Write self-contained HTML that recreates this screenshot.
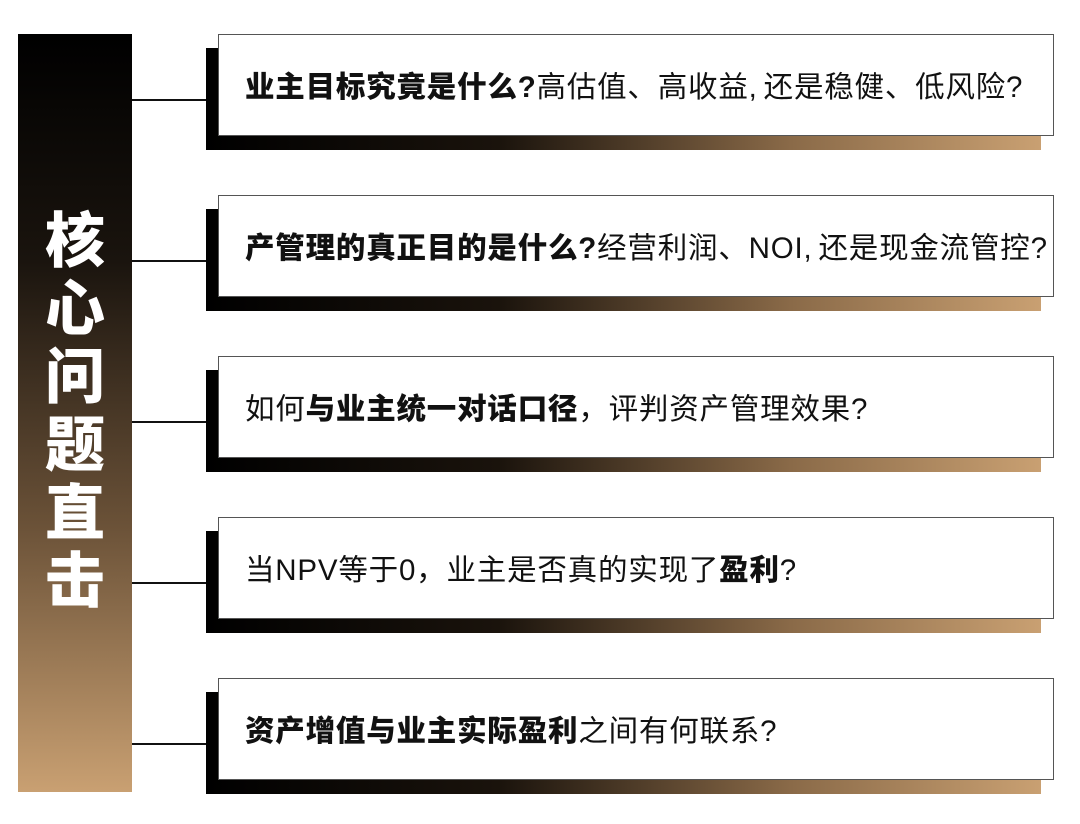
<!DOCTYPE html>
<html><head><meta charset="utf-8"><style>
body{margin:0;width:1080px;height:824px;background:#fff;position:relative;overflow:hidden;font-family:"Liberation Sans","Noto Sans CJK SC",sans-serif}
.bar{position:absolute;left:18px;top:34px;width:114px;height:758px;background:linear-gradient(to bottom,#000 0%,#1a140e 30%,#6b5238 65%,#c9a072 100%)}
.vt{position:absolute;left:18px;width:114px;top:208px;color:#fff;font-weight:900;font-size:60px;line-height:68px;text-align:center}
.sh{position:absolute;left:206px;width:835px;height:102px;background:linear-gradient(to right,#000 0%,#1a130c 35%,#8a6a48 70%,#c9a072 100%)}
.bx{position:absolute;left:218px;width:836px;height:100px;background:#fff;border:1px solid #555;display:flex;align-items:center;padding-left:26px;box-sizing:border-box;font-size:29.5px;letter-spacing:0.8px;color:#111;white-space:nowrap}
.ln{position:absolute;left:132px;width:75px;height:2px;background:#111}
b{font-weight:900}
.c{margin-right:6px}
</style></head><body>
<div class="bar"></div>
<div class="vt">核<br>心<br>问<br>题<br>直<br>击</div>

<div class="ln" style="top:99px"></div>
<div class="sh" style="top:48px"></div>
<div class="bx" style="top:34px;height:102px"><span><b>业主目标究竟是什么?</b>高估值、高收益<span class="c">,</span>还是稳健、低风险?</span></div>

<div class="ln" style="top:260px"></div>
<div class="sh" style="top:209px"></div>
<div class="bx" style="top:195px;height:102px"><span><b>产管理的真正目的是什么?</b>经营利润、NOI<span class="c">,</span>还是现金流管控?</span></div>

<div class="ln" style="top:421px"></div>
<div class="sh" style="top:370px"></div>
<div class="bx" style="top:356px;height:102px"><span>如何<b>与业主统一对话口径</b>，评判资产管理效果?</span></div>

<div class="ln" style="top:582px"></div>
<div class="sh" style="top:531px"></div>
<div class="bx" style="top:517px;height:102px"><span>当NPV等于0，业主是否真的实现了<b>盈利</b>?</span></div>

<div class="ln" style="top:743px"></div>
<div class="sh" style="top:692px"></div>
<div class="bx" style="top:678px;height:102px"><span><b>资产增值与业主实际盈利</b>之间有何联系?</span></div>
</body></html>
